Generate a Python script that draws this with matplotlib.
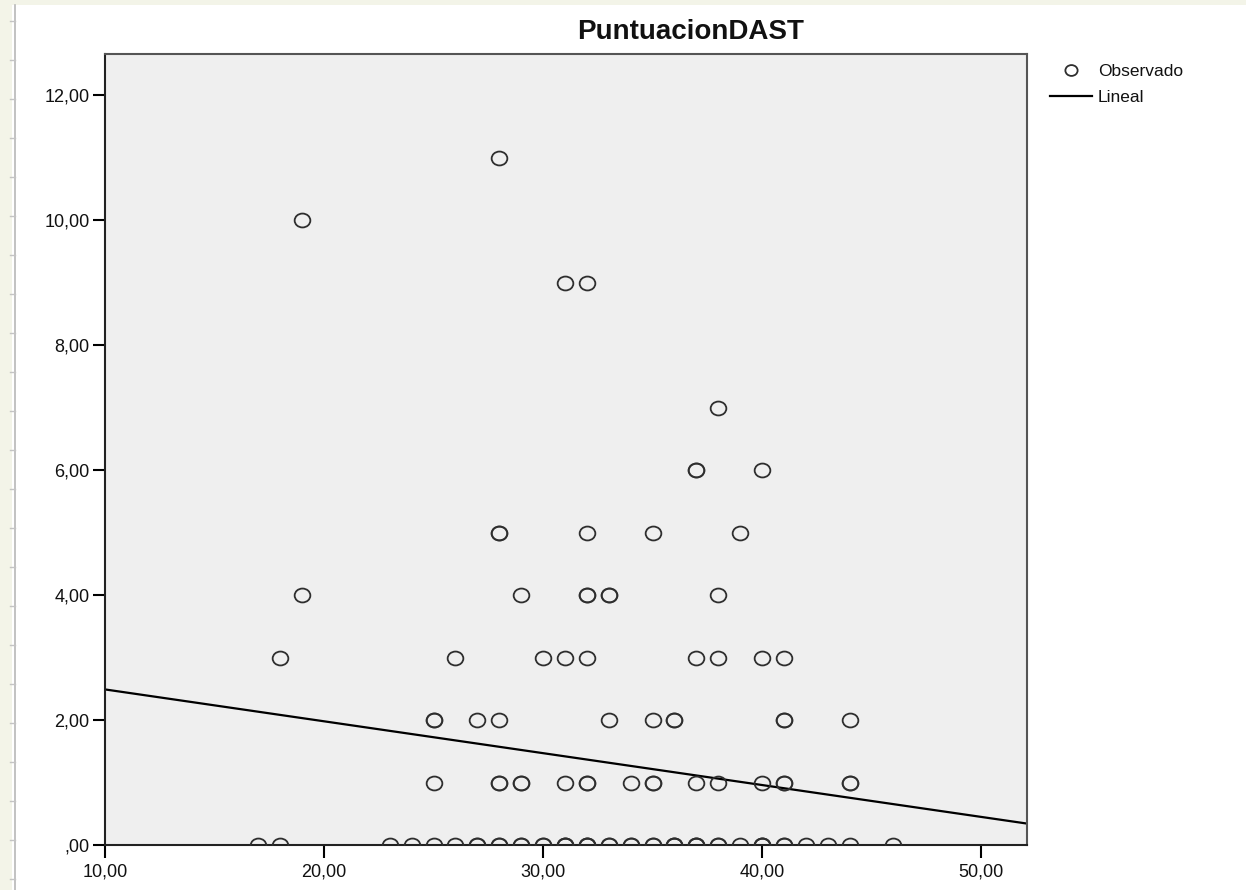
import matplotlib
matplotlib.use("Agg")
import matplotlib.pyplot as plt
from matplotlib.path import Path
from matplotlib.transforms import Affine2D
from matplotlib.patches import Rectangle
from matplotlib.lines import Line2D
import numpy as np

plt.rcParams['font.family'] = ['Liberation Sans', 'DejaVu Sans']

# ---------------- data ----------------
title = "PuntuacionDAST"
legend_labels = ["Observado", "Lineal"]

# observed points, listed by DAST score level (repeated x = overlapping cases)
x_y11 = [28]
x_y10 = [19]
x_y9 = [31, 32]
x_y7 = [38]
x_y6 = [37, 37, 40]
x_y5 = [28, 28, 32, 35, 39]
x_y4 = [19, 29, 32, 32, 33, 33, 38]
x_y3 = [18, 26, 30, 31, 32, 37, 38, 40, 41]
x_y2 = [25, 25, 27, 28, 33, 35, 36, 36, 41, 41, 44]
x_y1 = [25, 28, 28, 29, 29, 31, 32, 32, 34, 35, 35, 37, 38, 40, 41, 41, 44, 44]
x_y0 = [17, 18, 23, 24, 25, 26, 27, 27, 28, 28, 29, 29, 30, 30, 31, 31, 31,
        32, 32, 32, 33, 33, 34, 34, 35, 35, 36, 36, 36, 37, 37, 37, 38, 38,
        39, 40, 40, 40, 41, 41, 42, 43, 44, 46]

levels = [11, 10, 9, 7, 6, 5, 4, 3, 2, 1, 0]
level_xs = [x_y11, x_y10, x_y9, x_y7, x_y6, x_y5, x_y4, x_y3, x_y2, x_y1, x_y0]

# linear fit
fit_intercept = 3.00
fit_slope = -0.051

x_ticks = [10, 20, 30, 40, 50]
y_ticks = [0, 2, 4, 6, 8, 10, 12]
x_range = [10, 52.1]
y_range = [0, 12.66]

obs_x = []
obs_y = []
for lv, xs in zip(levels, level_xs):
    obs_x.extend(xs)
    obs_y.extend([lv] * len(xs))

# ---------------- figure ----------------
W, H = 1246, 890
fig = plt.figure(figsize=(W / 100, H / 100), dpi=100)
fig.patch.set_facecolor('white')

# page-like decoration at left/top edge
fig.add_artist(Rectangle((0, 0), 12 / W, 1, transform=fig.transFigure,
                         facecolor='#f3f4e8', edgecolor='none', zorder=0))
fig.add_artist(Rectangle((0, 1 - 5 / H), 1, 5 / H, transform=fig.transFigure,
                         facecolor='#f3f4e8', edgecolor='none', zorder=0))
fig.add_artist(Line2D([15 / W, 15 / W], [0, 1 - 5 / H], transform=fig.transFigure,
                      color='#b8b8b8', lw=1.2))
for py in range(21, H, 39):
    fig.add_artist(Line2D([10 / W, 15 / W], [1 - py / H, 1 - py / H],
                          transform=fig.transFigure, color='#c4c4c4', lw=1))

ax = fig.add_axes([105 / W, 1 - 845 / H, (1027 - 105) / W, (845 - 54) / H])
ax.set_facecolor('#efefef')

ell = Path.unit_circle().transformed(Affine2D().scale(1.13, 1.0))

ax.plot(obs_x, obs_y, linestyle='none', marker=ell, markersize=11.3,
        markerfacecolor='none', markeredgecolor='#2e2e2e', markeredgewidth=1.3,
        label=legend_labels[0], zorder=3)

xl = np.array(x_range)
ax.plot(xl, fit_intercept + fit_slope * xl, color='black', lw=1.6,
        label=legend_labels[1], zorder=2)

ax.set_xlim(*x_range)
ax.set_ylim(*y_range)
ax.set_xticks(x_ticks)
ax.set_yticks(y_ticks)


def fmt(v):
    s = f"{v:.2f}".replace('.', ',')
    if s.startswith('0'):
        s = s[1:]
    return s


ax.set_xticklabels([fmt(v) for v in x_ticks])
ax.set_yticklabels([fmt(v) for v in y_ticks])
ax.tick_params(axis='both', direction='out', length=9, width=1.5, color='black',
               labelsize=13, labelcolor='#111111', pad=2)
ax.tick_params(axis='x', length=9, pad=4)
for sp in ax.spines.values():
    sp.set_linewidth(1.5)
    sp.set_color('#222222')
ax.spines['top'].set_color('#555555')
ax.spines['right'].set_color('#555555')

fig.text((550 + 832) / 2 / W, 1 - 32 / H, title, ha='center', va='center',
         fontsize=20, fontweight='bold', color='#111111')

leg = ax.legend(loc='upper left', bbox_to_anchor=(1050 / W, 1 - 64 / H),
                bbox_transform=fig.transFigure, frameon=False, fontsize=12.5,
                handlelength=2.4, handletextpad=0.35, labelspacing=0.62,
                borderpad=0, borderaxespad=0, markerscale=0.78)
for t in leg.get_texts():
    t.set_color('#111111')

fig.savefig("out.png", dpi=100)
